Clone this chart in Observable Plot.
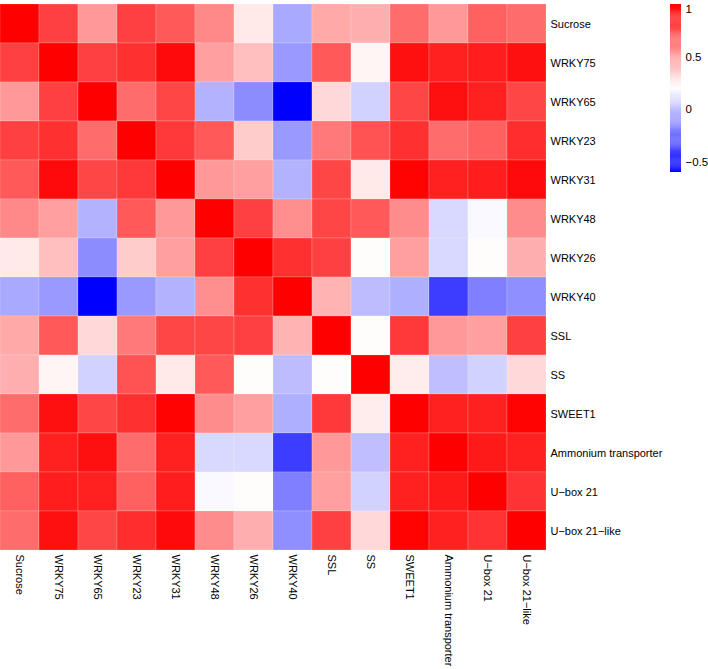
<!DOCTYPE html>
<html>
<head>
<meta charset="utf-8">
<script src="https://cdn.jsdelivr.net/npm/d3@7"></script>
<script src="https://cdn.jsdelivr.net/npm/@observablehq/plot@0.6"></script>
<style>
  html, body { margin: 0; padding: 0; background: #fff; }
  #wrap { position: relative; width: 708px; height: 669px; overflow: hidden; }
  #wrap > svg { position: absolute; left: 0; top: 0; overflow: visible; }
</style>
</head>
<body>
<div id="wrap"></div>
<script>
const names = ["Sucrose","WRKY75","WRKY65","WRKY23","WRKY31","WRKY48","WRKY26","WRKY40","SSL","SS","SWEET1","Ammonium transporter","U\u2212box 21","U\u2212box 21\u2212like"];

// correlation matrix rows (same order as names)
const rSucrose  = [1.00,0.80,0.52,0.80,0.72,0.57,0.27,-0.07,0.47,0.45,0.66,0.52,0.70,0.66];
const rWRKY75   = [0.80,1.00,0.80,0.85,0.97,0.50,0.40,-0.12,0.72,0.23,0.95,0.90,0.91,0.95];
const rWRKY65   = [0.52,0.80,1.00,0.66,0.78,-0.04,-0.16,-0.60,0.32,0.06,0.78,0.95,0.90,0.78];
const rWRKY23   = [0.80,0.85,0.66,1.00,0.82,0.72,0.36,-0.12,0.62,0.74,0.85,0.66,0.70,0.86];
const rWRKY31   = [0.72,0.97,0.78,0.82,1.00,0.52,0.50,-0.04,0.78,0.27,0.99,0.90,0.91,0.97];
const rWRKY48   = [0.57,0.50,-0.04,0.72,0.52,1.00,0.80,0.55,0.78,0.72,0.56,0.08,0.18,0.56];
const rWRKY26   = [0.27,0.40,-0.16,0.36,0.50,0.80,1.00,0.85,0.80,0.21,0.50,0.08,0.21,0.45];
const rWRKY40   = [-0.07,-0.12,-0.60,-0.12,-0.04,0.55,0.85,1.00,0.44,-0.01,-0.05,-0.41,-0.20,-0.15];
const rSSL      = [0.47,0.72,0.32,0.62,0.78,0.78,0.80,0.44,1.00,0.21,0.82,0.52,0.50,0.80];
const rSS       = [0.45,0.23,0.06,0.74,0.27,0.72,0.21,-0.01,0.21,1.00,0.26,0.00,0.06,0.32];
const rSWEET1   = [0.66,0.95,0.78,0.85,0.99,0.56,0.50,-0.05,0.82,0.26,1.00,0.90,0.90,0.99];
const rAmmonium = [0.52,0.90,0.95,0.66,0.90,0.08,0.08,-0.41,0.52,0.00,0.90,1.00,0.92,0.90];
const rUbox21   = [0.70,0.91,0.90,0.70,0.91,0.18,0.21,-0.20,0.50,0.06,0.90,0.92,1.00,0.84];
const rUbox21L  = [0.66,0.95,0.78,0.86,0.97,0.56,0.45,-0.15,0.80,0.32,0.99,0.90,0.84,1.00];

const legendTicks = [-0.5, 0, 0.5];
const legendTop = [1];
const colorDomain = [-0.6, 0.2, 1];

const rows = [rSucrose,rWRKY75,rWRKY65,rWRKY23,rWRKY31,rWRKY48,rWRKY26,rWRKY40,rSSL,rSS,rSWEET1,rAmmonium,rUbox21,rUbox21L];
const data = names.flatMap((r, i) => names.map((c, j) => ({row: r, col: c, value: rows[i][j]})));

const colorOpts = {type: "linear", domain: colorDomain, range: ["#0000ff", "#ffffff", "#ff0000"], interpolate: "rgb"};
const fontStyle = {fontFamily: "'Liberation Sans', Arial, sans-serif", fontSize: "11px", color: "#000", background: "transparent", overflow: "visible"};

const heat = Plot.plot({
  width: 708, height: 669,
  marginLeft: 0, marginRight: 162, marginTop: 4, marginBottom: 119,
  x: {domain: names, padding: 0, axis: "bottom", tickSize: 0, tickRotate: 90, tickPadding: 4, label: null},
  y: {domain: names, padding: 0, axis: "right", tickSize: 0, tickPadding: 4, label: null},
  color: colorOpts,
  style: fontStyle,
  marks: [
    Plot.cell(data, {x: "col", y: "row", fill: "value", stroke: "#ffffff", strokeOpacity: 0.3, strokeWidth: 0.6})
  ]
});

const fmt = d => d < 0 ? "\u2212" + Math.abs(d) : String(d);
const step = 0.01;
const stripes = d3.range(-0.6, 1 - 1e-9, step);
const legend = Plot.plot({
  width: 708, height: 176,
  marginLeft: 670, marginRight: 27, marginTop: 4, marginBottom: 4,
  x: {domain: [0, 1], axis: null},
  y: {domain: [-0.6, 1], axis: null},
  color: colorOpts,
  style: {...fontStyle, fontSize: "12px"},
  marks: [
    Plot.rect(stripes, {x1: 0, x2: 1, y1: d => d, y2: d => Math.min(1, d + step + 0.002), fill: d => d + step / 2}),
    Plot.text(legendTicks, {x: 1, y: d => d, text: fmt, textAnchor: "start", dx: 4, fill: "#000", fontSize: 11.5}),
    Plot.text(legendTop, {x: 1, y: d => d, text: fmt, textAnchor: "start", dx: 4, dy: 5, fill: "#000", fontSize: 11.5})
  ]
});

const wrap = document.getElementById("wrap");
wrap.appendChild(heat);
wrap.appendChild(legend);
</script>
</body>
</html>
